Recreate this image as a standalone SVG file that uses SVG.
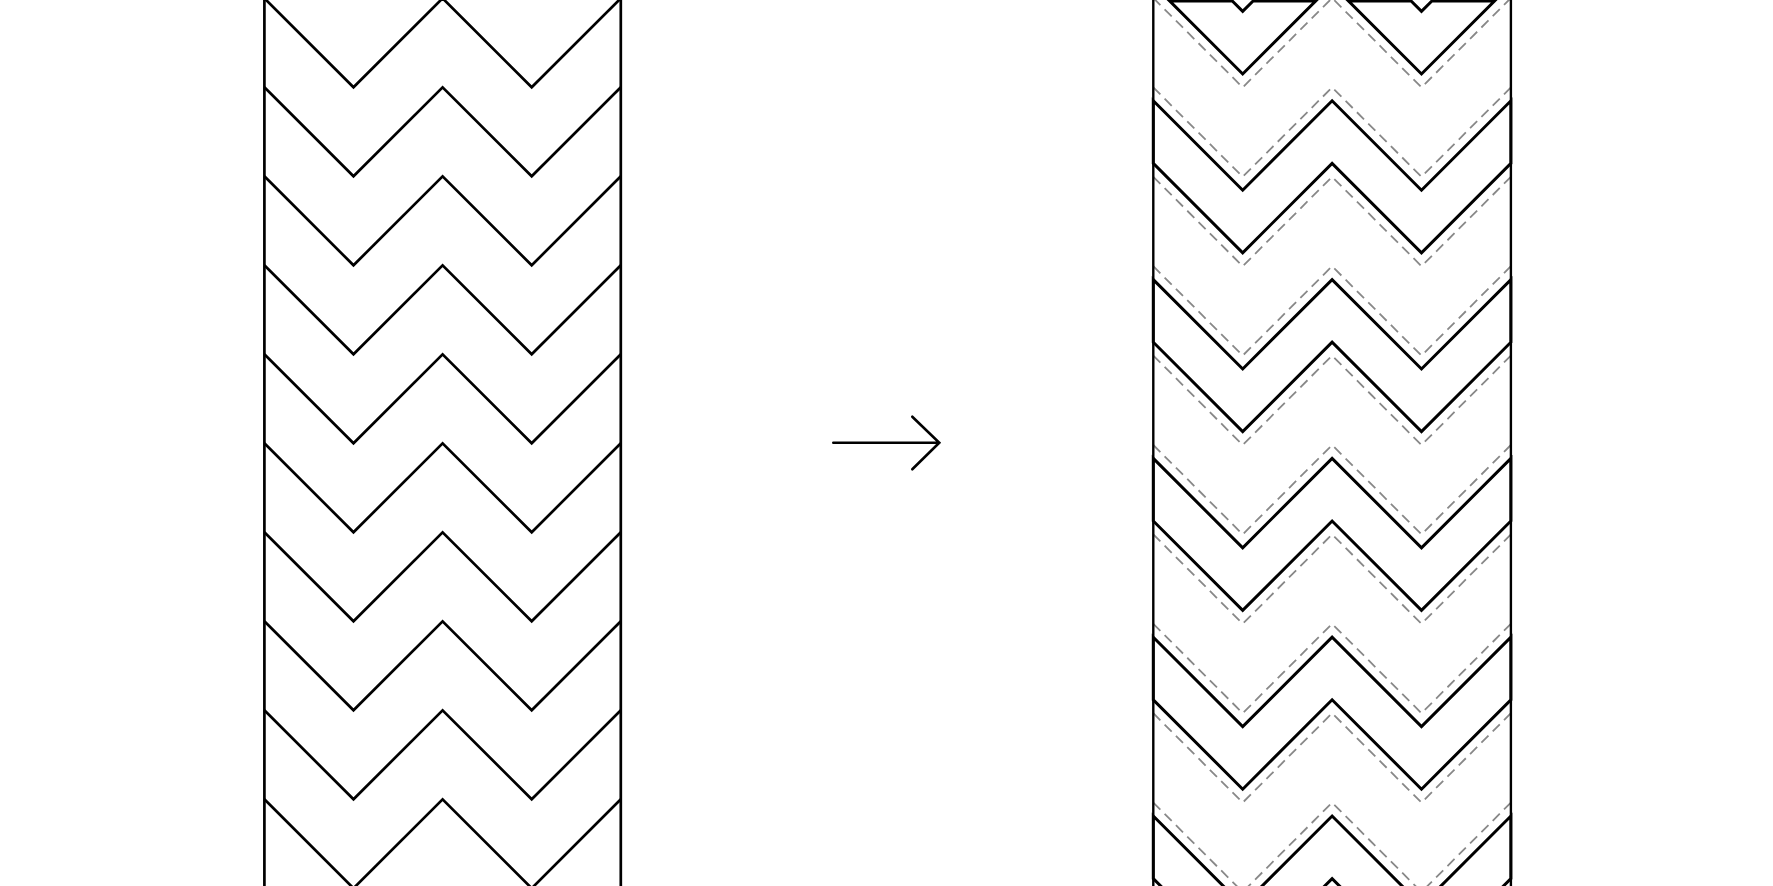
<svg xmlns="http://www.w3.org/2000/svg" width="1773" height="886" viewBox="0 0 1773 886">
<style>
.solid{fill:none;stroke:#000;stroke-width:2.7;stroke-linejoin:miter}
.strip{fill:none;stroke:#000;stroke-width:3;stroke-linejoin:miter}
.border{fill:none;stroke:#000;stroke-width:2.4}
.dash{fill:none;stroke:#888;stroke-width:1.8;stroke-dasharray:10 6}
.arrow{fill:none;stroke:#000;stroke-width:2.6;stroke-linecap:round;stroke-linejoin:miter}
</style>
<rect width="1773" height="886" fill="#fff"/>
<g id="left-panel">
<path class="solid" d="M264.4 -2V890M620.8 -2V890"/>
<path class="solid" d="M264.4 -1.7L353.5 87.3L442.6 -1.7L531.7 87.3L620.8 -1.7"/>
<path class="solid" d="M264.4 87.3L353.5 176.3L442.6 87.3L531.7 176.3L620.8 87.3"/>
<path class="solid" d="M264.4 176.3L353.5 265.3L442.6 176.3L531.7 265.3L620.8 176.3"/>
<path class="solid" d="M264.4 265.3L353.5 354.3L442.6 265.3L531.7 354.3L620.8 265.3"/>
<path class="solid" d="M264.4 354.3L353.5 443.3L442.6 354.3L531.7 443.3L620.8 354.3"/>
<path class="solid" d="M264.4 443.3L353.5 532.3L442.6 443.3L531.7 532.3L620.8 443.3"/>
<path class="solid" d="M264.4 532.3L353.5 621.3L442.6 532.3L531.7 621.3L620.8 532.3"/>
<path class="solid" d="M264.4 621.3L353.5 710.3L442.6 621.3L531.7 710.3L620.8 621.3"/>
<path class="solid" d="M264.4 710.3L353.5 799.3L442.6 710.3L531.7 799.3L620.8 710.3"/>
<path class="solid" d="M264.4 799.3L353.5 888.3L442.6 799.3L531.7 888.3L620.8 799.3"/>
</g>
<g id="connectors">
<path class="arrow" d="M833.3 442.7H939.3M912.3 416.7L939.3 442.7L912.3 469.3"/>
</g>
<g id="right-panel">
<g id="original-dashed">
<path class="dash" d="M1153.3 -2L1242.7 87.4L1332.1 -2L1421.5 87.4L1510.9 -2"/>
<path class="dash" d="M1153.3 87.4L1242.7 176.8L1332.1 87.4L1421.5 176.8L1510.9 87.4"/>
<path class="dash" d="M1153.3 176.8L1242.7 266.2L1332.1 176.8L1421.5 266.2L1510.9 176.8"/>
<path class="dash" d="M1153.3 266.2L1242.7 355.6L1332.1 266.2L1421.5 355.6L1510.9 266.2"/>
<path class="dash" d="M1153.3 355.6L1242.7 445L1332.1 355.6L1421.5 445L1510.9 355.6"/>
<path class="dash" d="M1153.3 445L1242.7 534.4L1332.1 445L1421.5 534.4L1510.9 445"/>
<path class="dash" d="M1153.3 534.4L1242.7 623.8L1332.1 534.4L1421.5 623.8L1510.9 534.4"/>
<path class="dash" d="M1153.3 623.8L1242.7 713.2L1332.1 623.8L1421.5 713.2L1510.9 623.8"/>
<path class="dash" d="M1153.3 713.2L1242.7 802.6L1332.1 713.2L1421.5 802.6L1510.9 713.2"/>
<path class="dash" d="M1153.3 802.6L1242.7 892L1332.1 802.6L1421.5 892L1510.9 802.6"/>
</g>
<path class="border" d="M1153.3 -2V890M1510.9 -2V890"/>
<g id="strips">
<path class="strip" d="M1169.7 1L1232.3 1L1242.7 11.4L1253.1 1L1315.7 1L1242.7 74Z"/>
<path class="strip" d="M1348.5 1L1411.1 1L1421.5 11.4L1431.9 1L1494.5 1L1421.5 74Z"/>
<path class="strip" d="M1153.3 100.8L1242.7 190.2L1332.1 100.8L1421.5 190.2L1510.9 100.8L1510.9 163.4L1421.5 252.8L1332.1 163.4L1242.7 252.8L1153.3 163.4Z"/>
<path class="strip" d="M1153.3 279.6L1242.7 369L1332.1 279.6L1421.5 369L1510.9 279.6L1510.9 342.2L1421.5 431.6L1332.1 342.2L1242.7 431.6L1153.3 342.2Z"/>
<path class="strip" d="M1153.3 458.4L1242.7 547.8L1332.1 458.4L1421.5 547.8L1510.9 458.4L1510.9 521L1421.5 610.4L1332.1 521L1242.7 610.4L1153.3 521Z"/>
<path class="strip" d="M1153.3 637.2L1242.7 726.6L1332.1 637.2L1421.5 726.6L1510.9 637.2L1510.9 699.8L1421.5 789.2L1332.1 699.8L1242.7 789.2L1153.3 699.8Z"/>
<path class="strip" d="M1153.3 816L1242.7 905.4L1332.1 816L1421.5 905.4L1510.9 816L1510.9 878.6L1421.5 968L1332.1 878.6L1242.7 968L1153.3 878.6Z"/>
</g>
</g>
</svg>
